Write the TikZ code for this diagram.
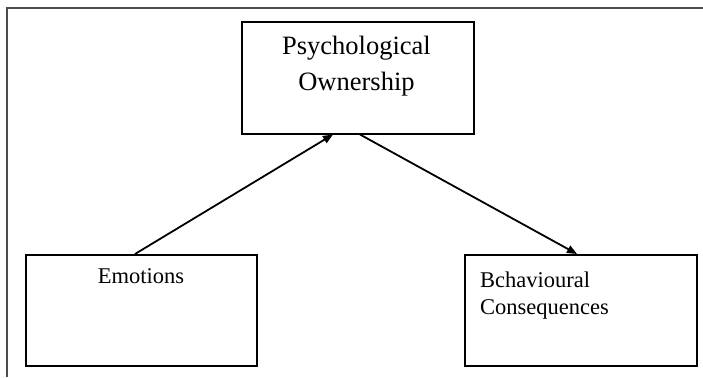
\documentclass[tikz,border=0pt]{standalone}
\usepackage{fontspec}
\setmainfont{Liberation Serif}
\usetikzlibrary{arrows.meta,calc}
\begin{document}
\begin{tikzpicture}[x=1pt,y=-1pt,
  box/.style={draw, line width=1.5pt, rectangle, anchor=north west, inner sep=0pt},
  lbl/.style={inner sep=0pt, font=\fontsize{22.5}{27}\selectfont},
  biglbl/.style={inner sep=0pt, font=\fontsize{26.5}{32}\selectfont},
  conn/.style={line width=1.8pt, -{Triangle[length=10pt,width=8pt]}}]
\useasboundingbox (0,0) rectangle (703,377);
\draw[black!70, line width=1.3pt] (7,377) -- (7,8) -- (703,8);
\node[box, minimum width=232pt, minimum height=111pt] (po) at (241,22) {};
\draw[line width=2.3pt] (po.north west) -- (po.north east);
\node[box, minimum width=231pt, minimum height=111pt] (emo) at (25,254) {};
\node[box, minimum width=232pt, minimum height=111pt] (beh) at (464,254) {};
\node[biglbl, anchor=base] (t1) at (356.5,55) {Psychological};
\node[biglbl, anchor=base] (t2) at (356.5,91) {Ownership};
\node[lbl, anchor=base] (t3) at (141,283) {Emotions};
\node[lbl, anchor=base west] (t4) at (480,287) {Bchavioural};
\node[lbl, anchor=base west] (t5) at (480,314) {Consequences};
\coordinate (a1) at ($(emo.north west)+(110,0)$);
\coordinate (a2) at ($(po.south west)+(92,0)$);
\coordinate (b1) at ($(po.south west)+(119,0)$);
\coordinate (b2) at ($(beh.north west)+(113,0)$);
\draw[conn] (a1) -- (a2);
\draw[conn] (b1) -- (b2);
\end{tikzpicture}
\end{document}
